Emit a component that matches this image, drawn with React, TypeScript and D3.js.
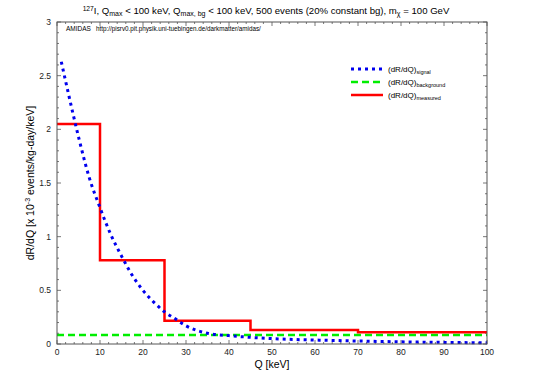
import React from "react";
import * as d3 from "d3";

// signal curve, Q in keV, rate in 1e-3 events/kg/day/keV
const sigQ = [1, 2.5, 5, 7.5, 10, 12.5, 15, 17.5, 20, 22.5, 25, 27.5, 30, 35, 40, 45, 50, 60, 70, 80, 90, 100];
const sigR = [2.63, 2.36, 1.93, 1.55, 1.27, 1.02, 0.82, 0.64, 0.5, 0.39, 0.3, 0.235, 0.17, 0.1, 0.078, 0.062, 0.05, 0.037, 0.028, 0.02, 0.015, 0.011];

// constant background
const bgLevel = 0.085;

// measured histogram bins
const binEdges = [0, 10, 25, 45, 70, 100];
const binRates = [2.05, 0.78, 0.217, 0.13, 0.11];

const xTicks = [0, 10, 20, 30, 40, 50, 60, 70, 80, 90, 100];
const yTicks = [0, 0.5, 1, 1.5, 2, 2.5, 3];

const W = 534;
const H = 374;
const left = 57, right = 487, top = 22, bottom = 344;
const font = "Liberation Sans, Arial, sans-serif";

export default function App() {
  const x = d3.scaleLinear().domain([0, 100]).range([left, right]);
  const y = d3.scaleLinear().domain([0, 3]).range([bottom, top]);

  const sigLine = d3.line<number>()
    .x((d, i) => x(sigQ[i]))
    .y((d) => y(d))
    .curve(d3.curveMonotoneX);

  const stepPts: [number, number][] = [];
  binRates.forEach((r, i) => {
    stepPts.push([binEdges[i], r]);
    stepPts.push([binEdges[i + 1], r]);
  });
  const stepLine = d3.line<[number, number]>()
    .x((d) => x(d[0]))
    .y((d) => y(d[1]));

  const xMinor = d3.range(0, 100.1, 2);
  const yMinor = d3.range(0, 3.01, 0.1);
  const axisCol = "#555";

  const legend = [
    { sub: "signal", color: "#0000ee", dash: "3,4", w: 3 },
    { sub: "background", color: "#00ee00", dash: "7,4", w: 2.5 },
    { sub: "measured", color: "#ff0000", dash: null, w: 2.5 },
  ];

  return (
    <svg width={W} height={H} style={{ position: "absolute", left: 0, top: 0 }} fontFamily={font}>
      <rect width={W} height={H} fill="#fff" />
      {/* title */}
      <text x={266} y={14} fontSize={9.6} textAnchor="middle">
        <tspan fontSize={6.7} dy={-3}>127</tspan>
        <tspan dy={3}>I, Q</tspan>
        <tspan fontSize={7} dy={2}>max</tspan>
        <tspan dy={-2}> &lt; 100 keV, Q</tspan>
        <tspan fontSize={7} dy={2}>max, bg</tspan>
        <tspan dy={-2}> &lt; 100 keV, 500 events (20% constant bg), m</tspan>
        <tspan fontSize={7} dy={2}>χ</tspan>
        <tspan dy={-2}> = 100 GeV</tspan>
      </text>

      {/* minor ticks */}
      {xMinor.map((v) => (
        <g key={"xm" + v} stroke={axisCol} strokeWidth={0.8}>
          <line x1={x(v)} x2={x(v)} y1={bottom} y2={bottom - (v % 10 === 0 ? 4 : 2)} />
          <line x1={x(v)} x2={x(v)} y1={top} y2={top + (v % 10 === 0 ? 4 : 2)} />
        </g>
      ))}
      {yMinor.map((v, i) => (
        <g key={"ym" + i} stroke={axisCol} strokeWidth={0.8}>
          <line x1={left} x2={left + (i % 5 === 0 ? 4 : 2)} y1={y(v)} y2={y(v)} />
          <line x1={right} x2={right - (i % 5 === 0 ? 4 : 2)} y1={y(v)} y2={y(v)} />
        </g>
      ))}

      {/* tick labels */}
      {xTicks.map((v) => (
        <text key={"xt" + v} x={x(v)} y={bottom + 11} fontSize={8.5} textAnchor="middle" fill="#222">{v}</text>
      ))}
      {yTicks.map((v) => (
        <text key={"yt" + v} x={left - 6} y={y(v) + 3} fontSize={8.5} textAnchor="end" fill="#222">{v}</text>
      ))}

      {/* axis titles */}
      <text x={272} y={368} fontSize={10.5} textAnchor="middle">Q [keV]</text>
      <text transform={`translate(34,${(top + bottom) / 2}) rotate(-90)`} fontSize={10.5} textAnchor="middle">
        <tspan>dR/dQ [x 10</tspan>
        <tspan fontSize={7} dy={-4}>-3</tspan>
        <tspan dy={4}> events/kg-day/keV]</tspan>
      </text>

      <text x={66} y={31} fontSize={6.5}>AMIDAS</text>
      <text x={96} y={31} fontSize={6.3}>http://pisrv0.pit.physik.uni-tuebingen.de/darkmatter/amidas/</text>

      {/* data */}
      <line x1={x(0)} x2={x(100)} y1={y(bgLevel)} y2={y(bgLevel)} stroke="#00ee00" strokeWidth={2.5} strokeDasharray="7,4" />
      <path d={stepLine(stepPts) || ""} fill="none" stroke="#ff0000" strokeWidth={2.5} />
      <path d={sigLine(sigR) || ""} fill="none" stroke="#0000ee" strokeWidth={3} strokeDasharray="3,4" />

      {/* frame */}
      <rect x={left} y={top} width={right - left} height={bottom - top} fill="none" stroke={axisCol} strokeWidth={1} />

      {/* legend */}
      {legend.map((l, i) => {
        const ly = 69 + i * 13;
        return (
          <g key={l.sub}>
            <line x1={351} x2={383} y1={ly} y2={ly} stroke={l.color} strokeWidth={l.w} strokeDasharray={l.dash || undefined} />
            <text x={388} y={ly + 3} fontSize={8}>
              <tspan>(dR/dQ)</tspan>
              <tspan fontSize={5.5} dy={2}>{l.sub}</tspan>
            </text>
          </g>
        );
      })}
    </svg>
  );
}
